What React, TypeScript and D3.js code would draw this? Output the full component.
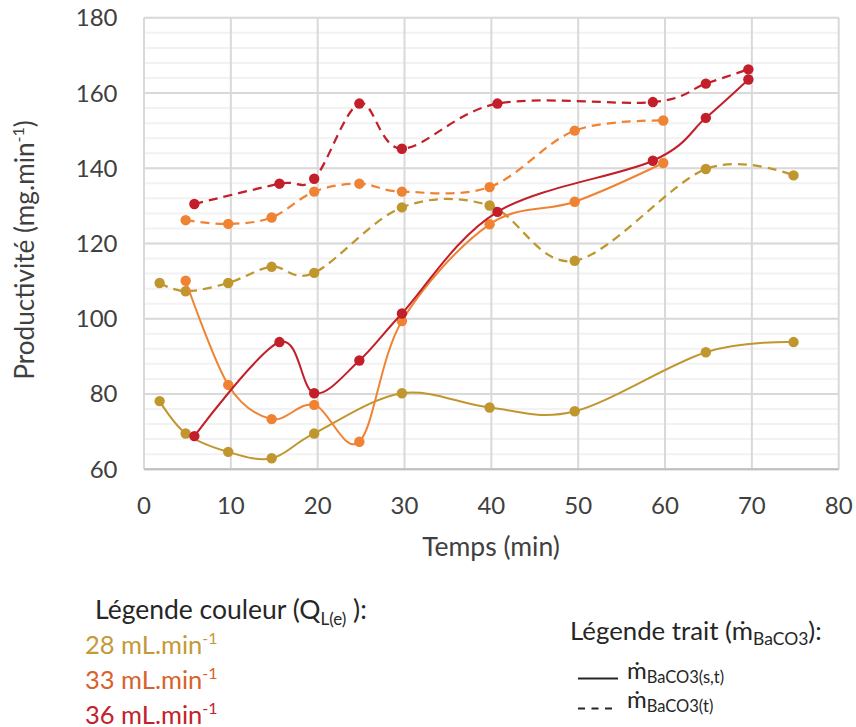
import React from "react";
import * as d3 from "d3";

// ---- Data ----
const t28 = [1.8, 4.8, 9.7, 14.7, 19.6, 29.7, 39.8, 49.6, 64.7, 74.8];
const p28s = [78.1, 69.5, 64.6, 62.9, 69.5, 80.2, 76.4, 75.4, 91.1, 93.8];
const p28t = [109.5, 107.3, 109.5, 113.8, 112.2, 129.6, 130.1, 115.4, 139.8, 138.1];

const t33 = [4.8, 9.7, 14.7, 19.6, 24.8, 29.7, 39.8, 49.6, 59.8];
const p33s = [110.1, 82.4, 73.3, 77.1, 67.3, 99.4, 125.1, 131.1, 141.4];
const p33t = [126.2, 125.2, 126.9, 133.8, 135.9, 133.8, 135.0, 150.0, 152.7];

const t36 = [5.8, 15.6, 19.6, 24.8, 29.7, 40.7, 58.6, 64.7, 69.6];
const p36s = [68.8, 93.8, 80.2, 88.9, 101.4, 128.4, 142.0, 153.4, 163.6];
const p36t = [130.5, 135.9, 137.2, 157.2, 145.2, 157.2, 157.6, 162.5, 166.3];

const xTicks = [0, 10, 20, 30, 40, 50, 60, 70, 80];
const yTicks = [60, 80, 100, 120, 140, 160, 180];
const yMinor = d3.range(60, 181, 4);

const GOLD = "#C0962F";
const ORANGE = "#F08333";
const RED = "#C21F2A";

const series = [
  { t: t28, v: p28t, color: GOLD, dashed: true },
  { t: t33, v: p33t, color: ORANGE, dashed: true },
  { t: t36, v: p36t, color: RED, dashed: true },
  { t: t28, v: p28s, color: GOLD, dashed: false },
  { t: t33, v: p33s, color: ORANGE, dashed: false },
  { t: t36, v: p36s, color: RED, dashed: false },
];

const FONT = "Lato, 'Open Sans', sans-serif";

export default function App() {
  const W = 856, H = 727;
  const x = d3.scaleLinear().domain([0, 80]).range([144, 838.7]);
  const y = d3.scaleLinear().domain([60, 180]).range([469.2, 17.8]);
  const line = d3
    .line<[number, number]>()
    .x((d) => x(d[0]))
    .y((d) => y(d[1]))
    .curve(d3.curveCardinal.tension(0));

  return (
    <svg
      width={W}
      height={H}
      style={{ position: "absolute", left: 0, top: 0, background: "#fff" }}
      fontFamily={FONT}
    >
      {/* minor gridlines */}
      {yMinor.map((v) => (
        <line key={"m" + v} x1={x(0)} x2={x(80)} y1={y(v)} y2={y(v)} stroke="#F2F2F2" strokeWidth={2} />
      ))}
      {/* major horizontal gridlines */}
      {yTicks.map((v) => (
        <line key={"h" + v} x1={x(0)} x2={x(80)} y1={y(v)} y2={y(v)} stroke="#D9D9D9" strokeWidth={2} />
      ))}
      {/* vertical gridlines */}
      {xTicks.map((v) => (
        <line key={"v" + v} x1={x(v)} x2={x(v)} y1={y(180)} y2={y(60)} stroke="#D9D9D9" strokeWidth={2} />
      ))}
      {/* axis line bottom */}
      <line x1={x(0)} x2={x(80)} y1={y(60)} y2={y(60)} stroke="#BFBFBF" strokeWidth={2} />

      {/* series */}
      {series.map((s, i) => {
        const pts = s.t.map((t, j) => [t, s.v[j]] as [number, number]);
        return (
          <g key={i}>
            <path
              d={line(pts) || ""}
              fill="none"
              stroke={s.color}
              strokeWidth={s.dashed ? 2.25 : 2}
              strokeDasharray={s.dashed ? "9,6" : undefined}
            />
            {pts.map((p, j) => (
              <circle key={j} cx={x(p[0])} cy={y(p[1])} r={5.2} fill={s.color} />
            ))}
          </g>
        );
      })}

      {/* y tick labels */}
      {yTicks.map((v) => (
        <text key={"yl" + v} x={117.5} y={y(v) + 8.5} textAnchor="end" fontSize={24} fill="#404040">
          {v}
        </text>
      ))}
      {/* x tick labels */}
      {xTicks.map((v) => (
        <text key={"xl" + v} x={x(v)} y={514} textAnchor="middle" fontSize={24} fill="#404040">
          {v}
        </text>
      ))}
      {/* axis titles */}
      <text x={491} y={556} textAnchor="middle" fontSize={26.5} fill="#404040">
        Temps (min)
      </text>
      <text
        transform={`translate(34,250) rotate(-90)`}
        textAnchor="middle"
        fontSize={26.2}
        fill="#404040"
      >
        Productivité (mg.min<tspan dy={-10} fontSize={16}>-1</tspan>
        <tspan dy={10}>)</tspan>
      </text>

      {/* colour legend */}
      <text x={95} y={619} fontSize={26.5} fill="#262626">
        Légende couleur (Q<tspan dy={6} fontSize={17}>L(e)</tspan>
        <tspan dy={-6}> ):</tspan>
      </text>
      <text x={85} y={653.5} fontSize={25.5} fill="#C49A38">
        28 mL.min<tspan dy={-10} fontSize={16}>-1</tspan>
      </text>
      <text x={85} y={689} fontSize={25.5} fill="#D8622B">
        33 mL.min<tspan dy={-10} fontSize={16}>-1</tspan>
      </text>
      <text x={85} y={723.5} fontSize={25.5} fill="#C2222A">
        36 mL.min<tspan dy={-10} fontSize={16}>-1</tspan>
      </text>

      {/* line-style legend */}
      <text x={570} y={640} fontSize={25.8} fill="#262626">
        Légende trait (ṁ<tspan dy={5} fontSize={17.5}>BaCO3</tspan>
        <tspan dy={-5}>):</tspan>
      </text>
      <line x1={578} x2={618} y1={678.5} y2={678.5} stroke="#262626" strokeWidth={2} />
      <text x={627} y={679} fontSize={24} fill="#262626">
        ṁ<tspan dy={4} fontSize={16.5}>BaCO3(s,t)</tspan>
      </text>
      <line x1={578} x2={618} y1={708.5} y2={708.5} stroke="#262626" strokeWidth={2} strokeDasharray="7,6.5" />
      <text x={627} y={708} fontSize={24} fill="#262626">
        ṁ<tspan dy={4} fontSize={16.5}>BaCO3(t)</tspan>
      </text>
    </svg>
  );
}
